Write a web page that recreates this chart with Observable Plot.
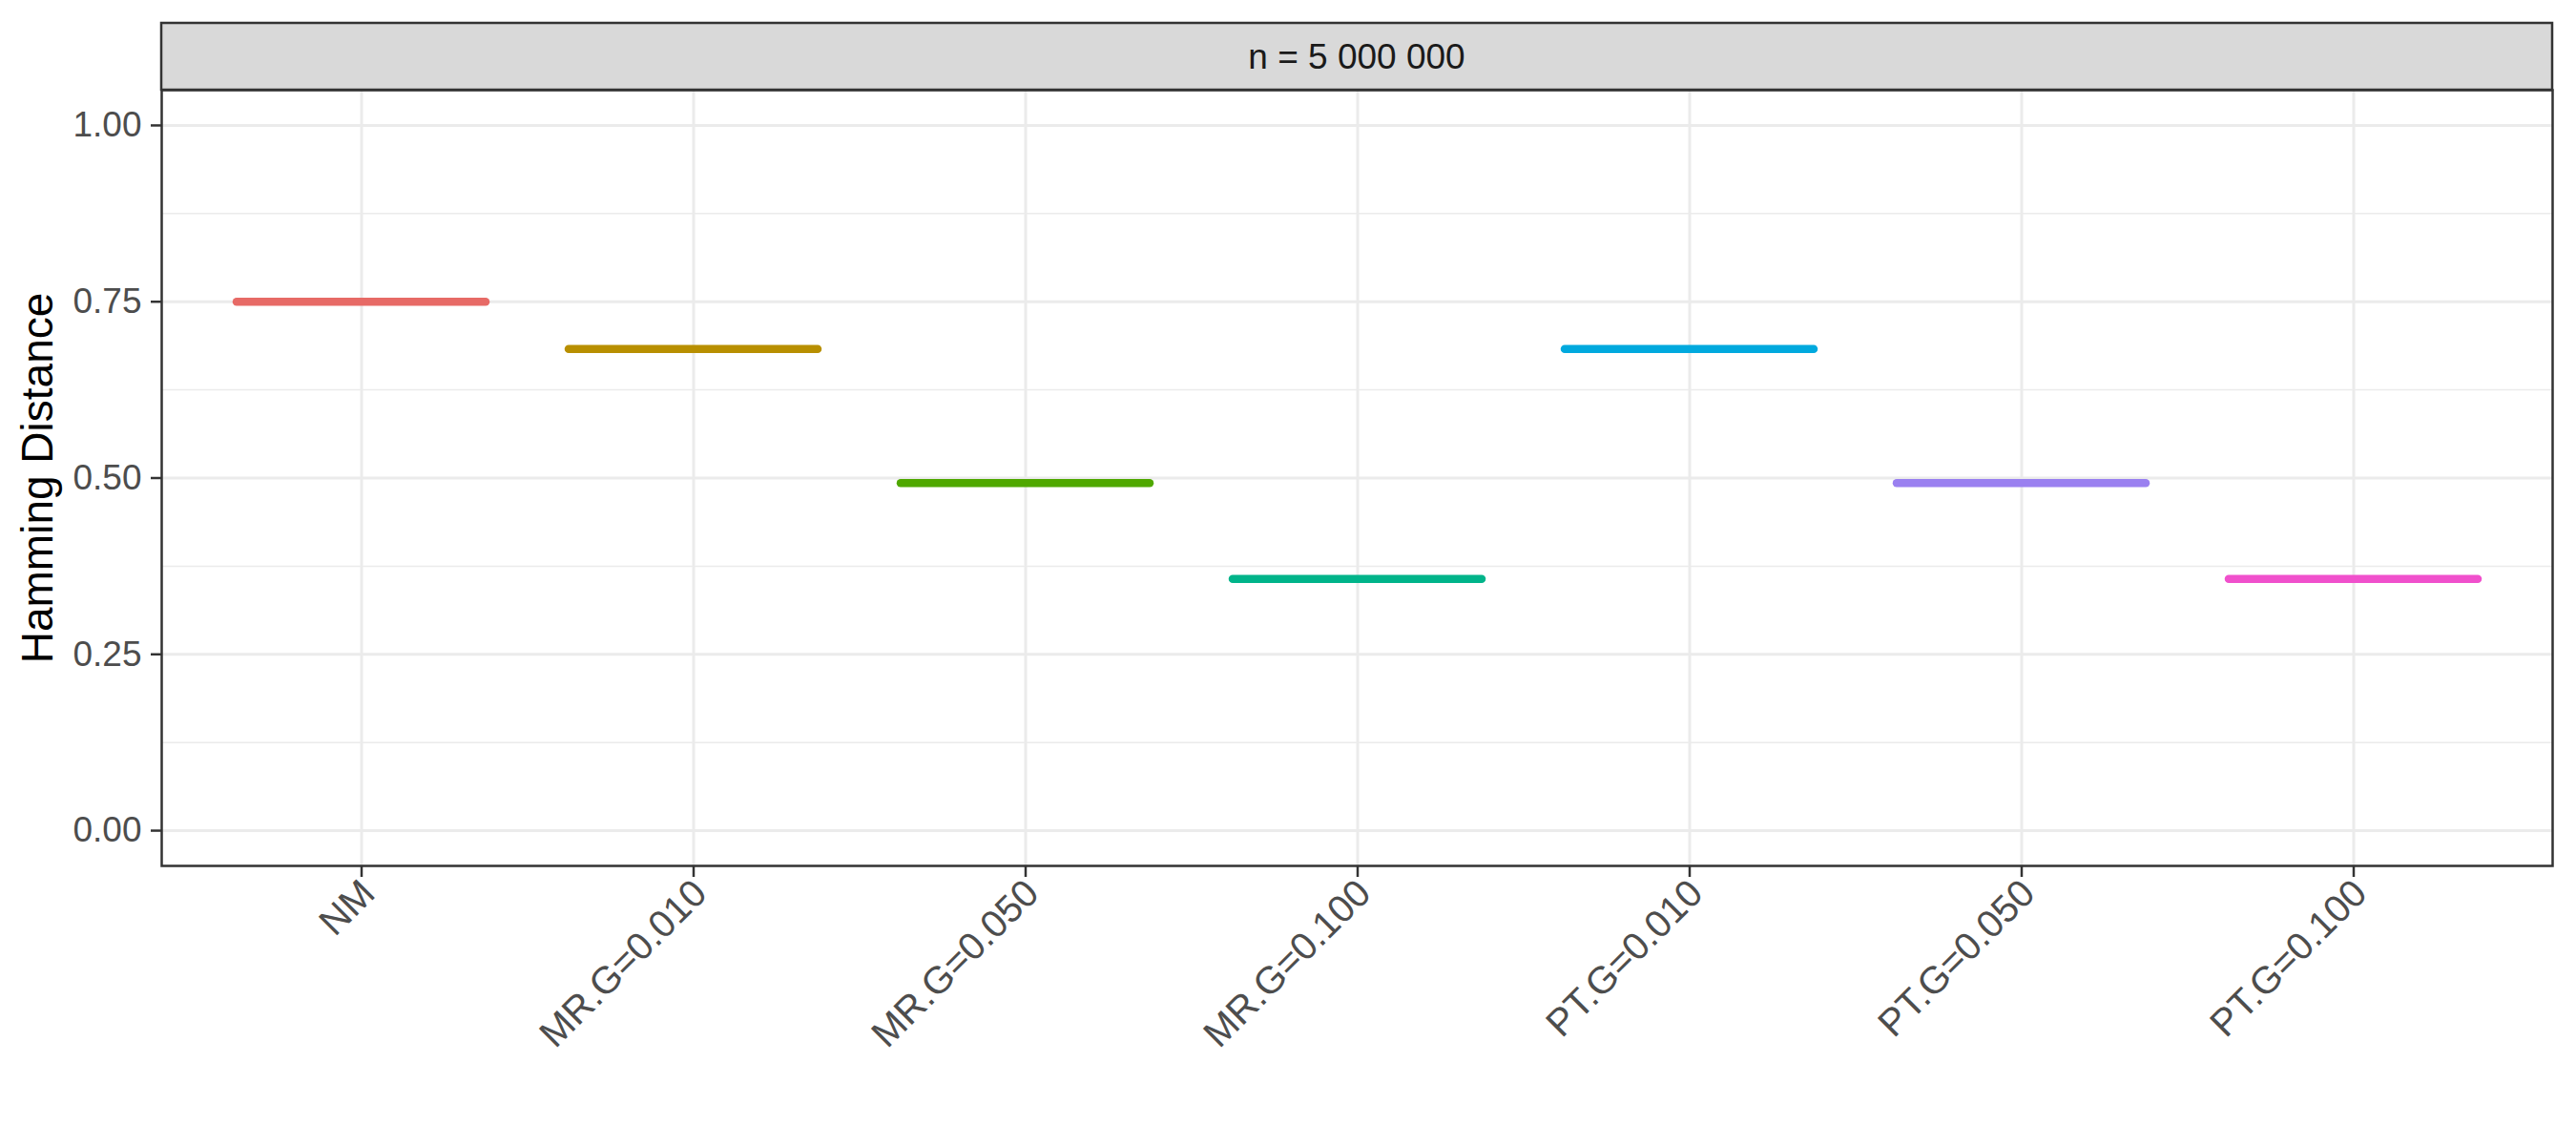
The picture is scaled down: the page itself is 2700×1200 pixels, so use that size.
<!DOCTYPE html>
<html><head><meta charset="utf-8">
<script src="https://cdn.jsdelivr.net/npm/d3@7"></script>
<script src="https://cdn.jsdelivr.net/npm/@observablehq/plot@0.6"></script>
<style>body{margin:0;background:#fff;font-family:"Liberation Sans",Arial,sans-serif}</style>
</head><body><div id="chart"></div>
<script>
const categories = ["NM", "MR.G=0.010", "MR.G=0.050", "MR.G=0.100", "PT.G=0.010", "PT.G=0.050", "PT.G=0.100"];
const values = [0.750, 0.683, 0.493, 0.357, 0.683, 0.493, 0.357];
const colors = ["#E76A66", "#B88F00", "#4FA800", "#00B48A", "#00A9DE", "#9A80F0", "#F050CC"];
const yTicks = [0, 0.25, 0.5, 0.75, 1];
const yMinorTicks = [0.125, 0.375, 0.625, 0.875];
const panelLabel = "n = 5 000 000";
const yLabel = "Hamming Distance";

const data = categories.map((c, i) => ({method: c, value: values[i]}));

const stripHeight = 70;
function strip(index, scales, vals, dims) {
  const {width, marginLeft, marginRight, marginTop} = dims;
  const x0 = marginLeft, x1 = width - marginRight;
  const y0 = marginTop - stripHeight;
  const g = d3.create("svg:g");
  g.append("rect")
    .attr("x", x0).attr("y", y0)
    .attr("width", x1 - x0).attr("height", stripHeight)
    .attr("fill", "#D9D9D9").attr("stroke", "#333333").attr("stroke-width", 2.5);
  g.append("text")
    .attr("x", (x0 + x1) / 2).attr("y", y0 + stripHeight / 2)
    .attr("text-anchor", "middle").attr("dominant-baseline", "central")
    .attr("font-size", 37).attr("fill", "#1A1A1A")
    .attr("font-family", "Liberation Sans, Arial, sans-serif")
    .text(panelLabel);
  return g.node();
}

const chart = Plot.plot({
  width: 2700,
  height: 1200,
  marginLeft: 169,
  marginRight: 25,
  marginTop: 94,
  marginBottom: 293,
  style: {fontFamily: "Liberation Sans, Arial, sans-serif", background: "white"},
  x: {type: "band", domain: categories, paddingInner: 0.25, paddingOuter: 0.225, label: null},
  y: {domain: [-0.05, 1.05], label: null},
  color: {domain: categories, range: colors},
  marks: [
    Plot.gridY(yMinorTicks, {stroke: "#EBEBEB", strokeOpacity: 1, strokeWidth: 1.5}),
    Plot.gridY(yTicks, {stroke: "#EBEBEB", strokeOpacity: 1, strokeWidth: 3}),
    Plot.gridX(categories, {stroke: "#EBEBEB", strokeOpacity: 1, strokeWidth: 3}),
    Plot.tickY(data, {x: "method", y: "value", stroke: "method", strokeWidth: 8.5, strokeLinecap: "round"}),
    Plot.frame({stroke: "#333333", strokeWidth: 2.5}),
    Plot.axisY(yTicks, {tickFormat: d3.format(".2f"), tickSize: 11, tickPadding: 10, fontSize: 37, fill: "#4D4D4D", stroke: "#333333", strokeWidth: 2.5, label: null}),
    Plot.axisX(categories, {tickSize: 12, text: null, stroke: "#333333", strokeWidth: 2.5, label: null}),
    Plot.axisX(categories, {tickRotate: -45, tickSize: 0, tickPadding: 22, dx: 7, fontSize: 40, fill: "#4D4D4D", label: null}),
    Plot.text([yLabel], {text: d => d, frameAnchor: "left", textAnchor: "middle", rotate: -90, lineAnchor: "top", dx: -147, fontSize: 46, fill: "#000000"}),
    strip
  ]
});
document.getElementById("chart").appendChild(chart);
</script>
</body></html>
